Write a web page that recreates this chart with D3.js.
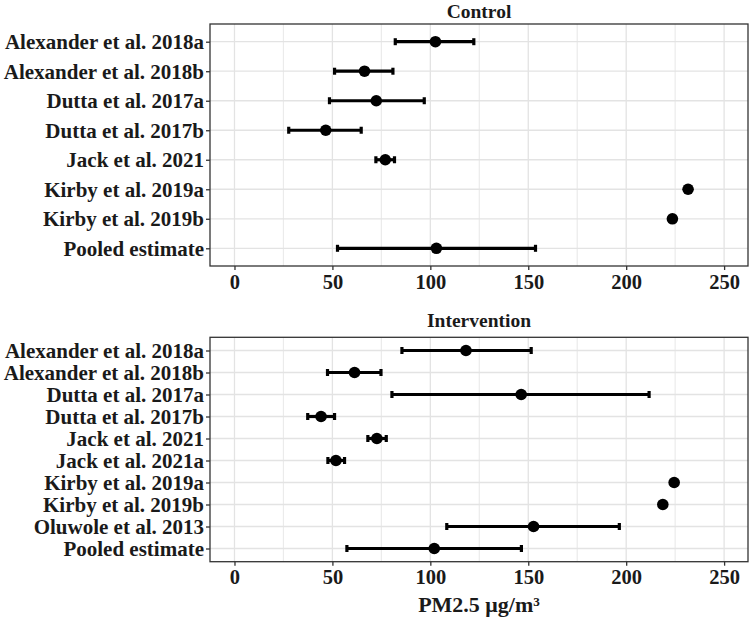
<!DOCTYPE html>
<html>
<head>
<meta charset="utf-8">
<script src="https://cdn.jsdelivr.net/npm/d3@7"></script>
<style>
  body { margin: 0; background: #fff; }
  svg text { font-family: "Liberation Serif", "DejaVu Serif", serif; font-weight: bold; fill: #1a1a1a; }
</style>
</head>
<body>
<svg id="chart" width="749" height="620"></svg>
<script>
// ---- data ----
const controlStudies = ["Alexander et al. 2018a","Alexander et al. 2018b","Dutta et al. 2017a","Dutta et al. 2017b","Jack et al. 2021","Kirby et al. 2019a","Kirby et al. 2019b","Pooled estimate"];
const controlMean  = [102.6, 66.4, 72.4, 46.6, 77.0, 231.6, 223.6, 103.1];
const controlLower = [82.1, 51.1, 48.5, 27.7, 72.2, null, null, 52.6];
const controlUpper = [122.2, 80.9, 96.9, 64.7, 81.7, null, null, 153.7];

const interventionStudies = ["Alexander et al. 2018a","Alexander et al. 2018b","Dutta et al. 2017a","Dutta et al. 2017b","Jack et al. 2021","Jack et al. 2021a","Kirby et al. 2019a","Kirby et al. 2019b","Oluwole et al. 2013","Pooled estimate"];
const interventionMean  = [118.2, 61.3, 146.4, 44.2, 72.7, 51.8, 224.5, 218.7, 152.7, 102.0];
const interventionLower = [85.5, 47.5, 80.4, 37.4, 68.1, 47.7, null, null, 108.4, 57.4];
const interventionUpper = [151.5, 74.8, 211.7, 51.1, 77.5, 56.2, null, null, 196.5, 146.5];

const xTicks = [0, 50, 100, 150, 200, 250];
const xMinorTicks = [25, 75, 125, 175, 225];
const xDomain = [-12.5, 262.2];
const panelTitles = ["Control", "Intervention"];
const xAxisTitle = "PM2.5 μg/m³";

// ---- drawing ----
const svg = d3.select("#chart");
const left = 210, right = 748;
const x = d3.scaleLinear().domain(xDomain).range([left, right]);

function panel(title, studies, mean, lower, upper, top, bottom, titleY) {
  const g = svg.append("g");
  const y = d3.scalePoint().domain(studies).range([top, bottom]).padding(0.6);

  // gridlines
  g.selectAll(".minor").data(xMinorTicks).join("line")
    .attr("x1", d => x(d)).attr("x2", d => x(d)).attr("y1", top).attr("y2", bottom)
    .attr("stroke", "#ebebeb").attr("stroke-width", 1.2);
  g.selectAll(".major").data(xTicks).join("line")
    .attr("x1", d => x(d)).attr("x2", d => x(d)).attr("y1", top).attr("y2", bottom)
    .attr("stroke", "#e3e3e3").attr("stroke-width", 1.3);
  g.selectAll(".hgrid").data(studies).join("line")
    .attr("x1", left).attr("x2", right).attr("y1", d => y(d)).attr("y2", d => y(d))
    .attr("stroke", "#e3e3e3").attr("stroke-width", 1.3);

  const rows = studies.map((s, i) => ({s, m: mean[i], lo: lower[i], hi: upper[i]}));
  const eb = rows.filter(r => r.lo != null);
  g.selectAll(".eb").data(eb).join("line")
    .attr("x1", d => x(d.lo)).attr("x2", d => x(d.hi))
    .attr("y1", d => y(d.s)).attr("y2", d => y(d.s))
    .attr("stroke", "#000").attr("stroke-width", 3.2);
  const capH = 3.5;
  ["lo", "hi"].forEach(k => {
    g.selectAll(".cap" + k).data(eb).join("line")
      .attr("x1", d => x(d[k])).attr("x2", d => x(d[k]))
      .attr("y1", d => y(d.s) - capH).attr("y2", d => y(d.s) + capH)
      .attr("stroke", "#000").attr("stroke-width", 3.2);
  });
  g.selectAll(".pt").data(rows).join("circle")
    .attr("cx", d => x(d.m)).attr("cy", d => y(d.s)).attr("r", 5.8)
    .attr("fill", "#000");

  // border
  g.append("rect").attr("x", left).attr("y", top).attr("width", right - left).attr("height", bottom - top)
    .attr("fill", "none").attr("stroke", "#333").attr("stroke-width", 1.3);

  // y axis
  const ya = g.append("g").attr("transform", `translate(${left},0)`)
    .call(d3.axisLeft(y).tickSize(4).tickPadding(2));
  ya.select(".domain").remove();
  ya.selectAll(".tick line").attr("stroke", "#333").attr("stroke-width", 1.3);
  ya.selectAll(".tick text").style("font-size", "21px").attr("dy", "0.34em").attr("fill", "#1a1a1a");

  // x axis
  const xa = g.append("g").attr("transform", `translate(0,${bottom})`)
    .call(d3.axisBottom(x).tickValues(xTicks).tickSize(4).tickPadding(4));
  xa.select(".domain").remove();
  xa.selectAll(".tick line").attr("stroke", "#333").attr("stroke-width", 1.3);
  xa.selectAll(".tick text").style("font-size", "20.5px").attr("fill", "#1a1a1a");

  // title
  g.append("text").attr("x", (left + right) / 2).attr("y", titleY)
    .attr("text-anchor", "middle").style("font-size", "19.5px").text(title);
}

panel(panelTitles[0], controlStudies, controlMean, controlLower, controlUpper, 24, 266, 18);
panel(panelTitles[1], interventionStudies, interventionMean, interventionLower, interventionUpper, 337.3, 561.7, 327);

svg.append("text").attr("x", (left + right) / 2).attr("y", 612)
  .attr("text-anchor", "middle").style("font-size", "22px").text(xAxisTitle);
</script>
</body>
</html>
